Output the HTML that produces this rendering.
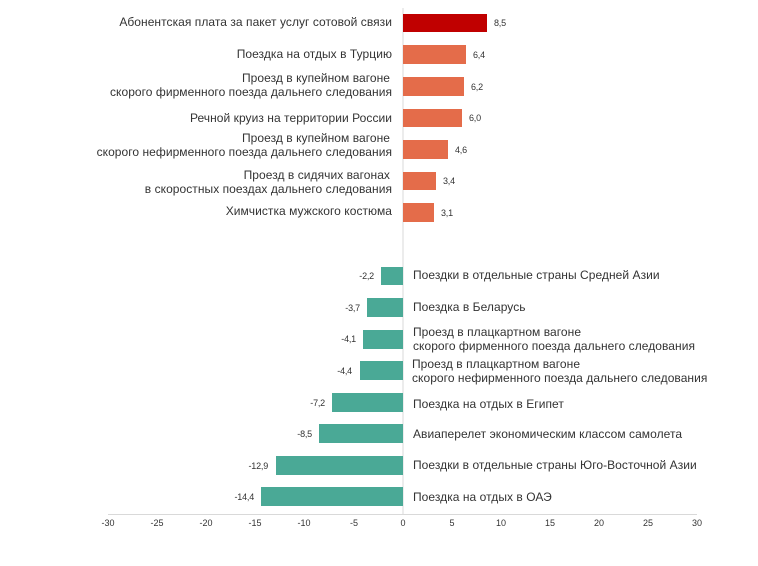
<!DOCTYPE html>
<html><head><meta charset="utf-8"><style>
html,body{margin:0;padding:0;background:#fff;}
svg text{font-family:"Liberation Sans","DejaVu Sans",sans-serif;fill:#333;}
.l{font-size:12px;letter-spacing:0.05px;}
.v{font-size:9px;letter-spacing:-0.2px;}
.t{font-size:9px;fill:#444;}
</style></head><body>
<svg width="758" height="561" viewBox="0 0 758 561" xmlns="http://www.w3.org/2000/svg">
<line x1="403" y1="8" x2="403" y2="514" stroke="#d9d9d9" stroke-width="1"/>
<line x1="108" y1="514.5" x2="697" y2="514.5" stroke="#d9d9d9" stroke-width="1"/>
<rect x="403" y="14" width="84" height="18" fill="#c00000"/>
<rect x="403" y="45" width="63" height="19" fill="#e46c4a"/>
<rect x="403" y="77" width="61" height="19" fill="#e46c4a"/>
<rect x="403" y="109" width="59" height="18" fill="#e46c4a"/>
<rect x="403" y="140" width="45" height="19" fill="#e46c4a"/>
<rect x="403" y="172" width="33" height="18" fill="#e46c4a"/>
<rect x="403" y="203" width="31" height="19" fill="#e46c4a"/>
<g class="v">
<text x="494" y="26">8,5</text><text x="473" y="58">6,4</text><text x="471" y="90">6,2</text>
<text x="469" y="121">6,0</text><text x="455" y="153">4,6</text><text x="443" y="184">3,4</text><text x="441" y="216">3,1</text>
</g>
<g class="l" text-anchor="end">
<text x="392" y="26">Абонентская плата за пакет услуг  сотовой связи</text>
<text x="392" y="58">Поездка на отдых в Турцию</text>
<text x="390" y="82">Проезд в купейном вагоне</text>
<text x="392" y="96">скорого фирменного поезда дальнего следования</text>
<text x="392" y="122">Речной круиз на территории России</text>
<text x="390" y="142">Проезд в купейном вагоне</text>
<text x="392" y="156">скорого нефирменного поезда дальнего следования</text>
<text x="390" y="179">Проезд в сидячих вагонах</text>
<text x="392" y="193">в скоростных поездах дальнего следования</text>
<text x="392" y="215">Химчистка мужского костюма</text>
</g>
<rect x="381" y="267" width="22" height="18" fill="#4aa996"/>
<rect x="367" y="298" width="36" height="19" fill="#4aa996"/>
<rect x="363" y="330" width="40" height="19" fill="#4aa996"/>
<rect x="360" y="361" width="43" height="19" fill="#4aa996"/>
<rect x="332" y="393" width="71" height="19" fill="#4aa996"/>
<rect x="319" y="424" width="84" height="19" fill="#4aa996"/>
<rect x="276" y="456" width="127" height="19" fill="#4aa996"/>
<rect x="261" y="487" width="142" height="19" fill="#4aa996"/>
<g class="v" text-anchor="end">
<text x="374" y="279">-2,2</text><text x="360" y="311">-3,7</text><text x="356" y="342">-4,1</text>
<text x="352" y="374">-4,4</text><text x="325" y="406">-7,2</text><text x="312" y="437">-8,5</text>
<text x="268" y="469">-12,9</text><text x="254" y="500">-14,4</text>
</g>
<g class="l">
<text x="413" y="279">Поездки в отдельные страны Средней Азии</text>
<text x="413" y="311">Поездка в Беларусь</text>
<text x="413" y="336">Проезд в плацкартном вагоне</text>
<text x="413" y="350">скорого фирменного поезда дальнего следования</text>
<text x="412" y="368">Проезд в плацкартном вагоне</text>
<text x="412" y="382">скорого нефирменного поезда дальнего следования</text>
<text x="413" y="408">Поездка на отдых в Египет</text>
<text x="413" y="438">Авиаперелет экономическим классом самолета</text>
<text x="413" y="469">Поездки в отдельные страны Юго-Восточной Азии</text>
<text x="413" y="501">Поездка на отдых в ОАЭ</text>
</g>
<g class="t" text-anchor="middle">
<text x="108" y="526">-30</text><text x="157" y="526">-25</text><text x="206" y="526">-20</text>
<text x="255" y="526">-15</text><text x="304" y="526">-10</text><text x="354" y="526">-5</text>
<text x="403" y="526">0</text><text x="452" y="526">5</text><text x="501" y="526">10</text>
<text x="550" y="526">15</text><text x="599" y="526">20</text><text x="648" y="526">25</text><text x="697" y="526">30</text>
</g>
</svg>
</body></html>
